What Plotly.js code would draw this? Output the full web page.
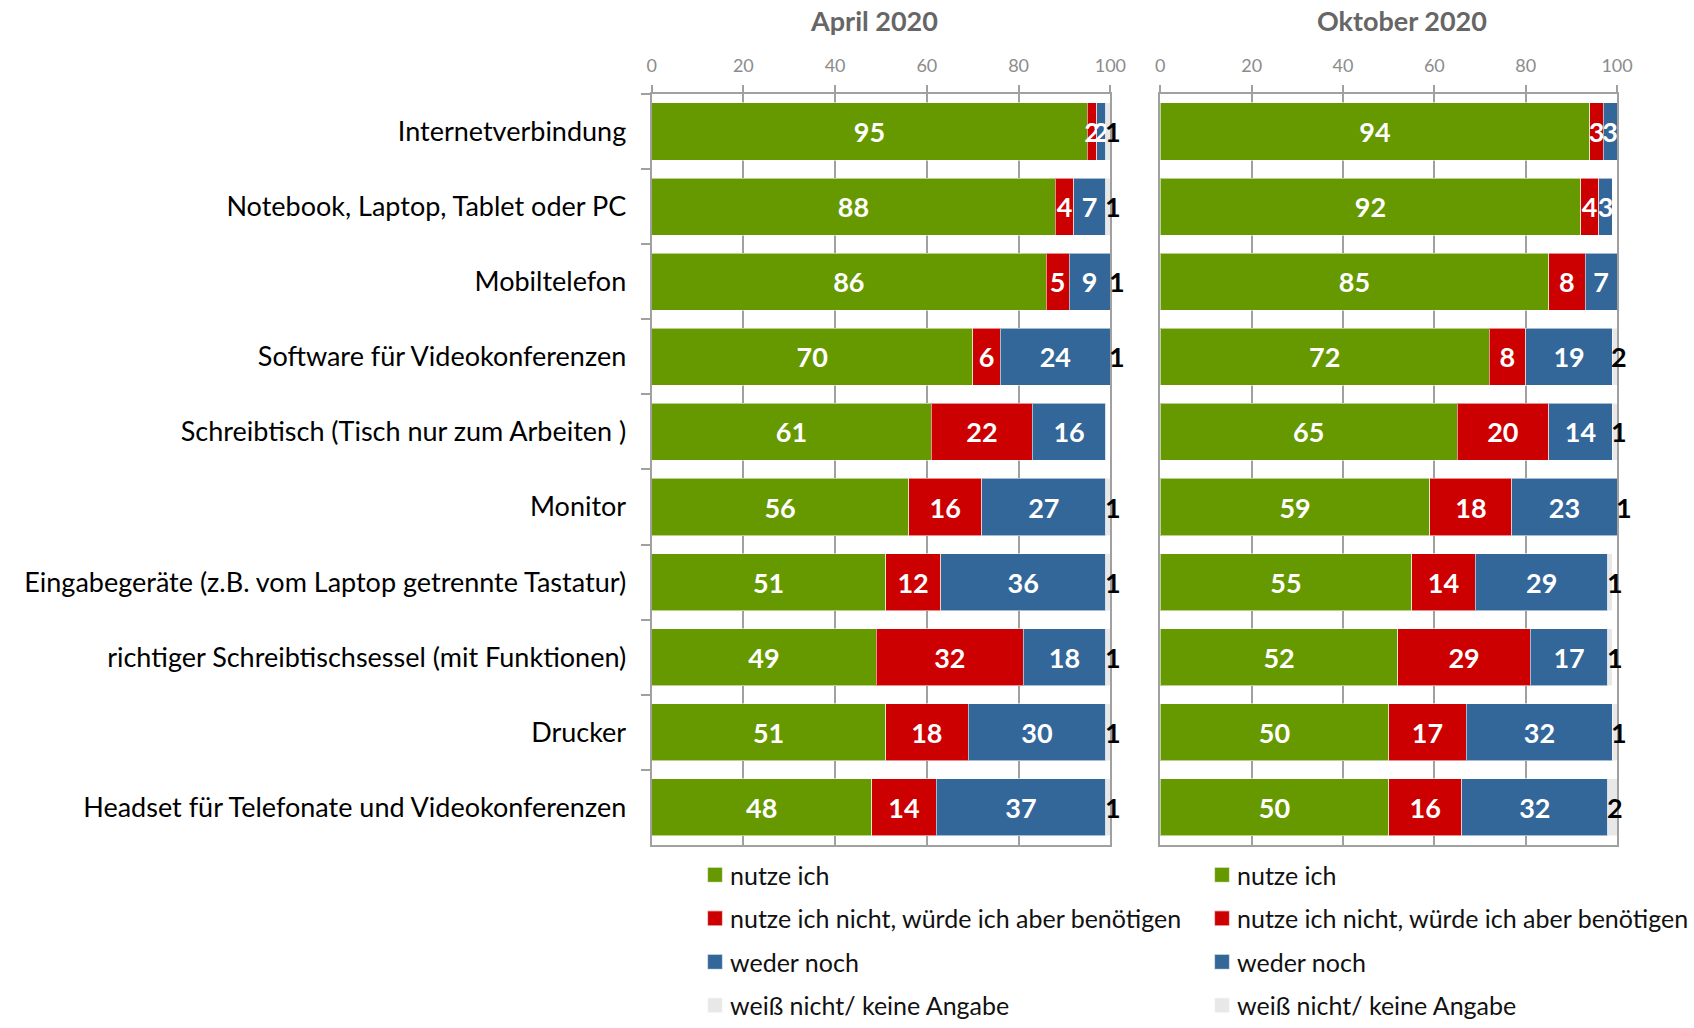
<!DOCTYPE html>
<html>
<head>
<meta charset="utf-8">
<script src="https://cdn.plot.ly/plotly-3.0.1.min.js"></script>
<style>html,body{margin:0;padding:0;background:#fff;}#chart{width:1694px;height:1028px;}</style>
</head>
<body>
<div id="chart"></div>
<script>
// ---- data ----
const categories = [
  'Internetverbindung',
  'Notebook, Laptop, Tablet oder PC',
  'Mobiltelefon',
  'Software für Videokonferenzen',
  'Schreibtisch (Tisch nur zum Arbeiten )',
  'Monitor',
  'Eingabegeräte (z.B. vom Laptop getrennte Tastatur)',
  'richtiger Schreibtischsessel (mit Funktionen)',
  'Drucker',
  'Headset für Telefonate und Videokonferenzen'
];
const seriesNames = [
  'nutze ich',
  'nutze ich nicht, würde ich aber benötigen',
  'weder noch',
  'weiß nicht/ keine Angabe'
];
const panelTitles = ['April 2020', 'Oktober 2020'];

const aprilNutze      = [95, 88, 86, 70, 61, 56, 51, 49, 51, 48];
const aprilBenoetigen = [ 2,  4,  5,  6, 22, 16, 12, 32, 18, 14];
const aprilWeder      = [ 2,  7,  9, 24, 16, 27, 36, 18, 30, 37];
const aprilWeissNicht = [ 1,  1,  1,  1,  0,  1,  1,  1,  1,  1];

const oktNutze        = [94, 92, 85, 72, 65, 59, 55, 52, 50, 50];
const oktBenoetigen   = [ 3,  4,  8,  8, 20, 18, 14, 29, 17, 16];
const oktWeder        = [ 3,  3,  7, 19, 14, 23, 29, 17, 32, 32];
const oktWeissNicht   = [ 0,  0,  0,  2,  1,  1,  1,  1,  1,  2];

const xTicks = [0, 20, 40, 60, 80, 100];

// ---- styling ----
const colors = ['#669900', '#CC0000', '#336699', '#E8E8E8'];
const FONT = 'Lato, "Open Sans", "DejaVu Sans", sans-serif';
const labelFont = {family: FONT, size: 27, color: '#ffffff', weight: 'bold'};

const panels = [
  {vals: [aprilNutze, aprilBenoetigen, aprilWeder, aprilWeissNicht], xa: 'x', ya: 'y', leg: 'legend', suffix: 'a'},
  {vals: [oktNutze, oktBenoetigen, oktWeder, oktWeissNicht], xa: 'x2', ya: 'y2', leg: 'legend2', suffix: 'b'}
];

const traces = [];
const grayLabels = [];
panels.forEach(p => {
  p.vals.forEach((v, i) => {
    const isGray = i === 3;
    traces.push({
      type: 'bar',
      orientation: 'h',
      name: seriesNames[i],
      x: v,
      y: categories,
      xaxis: p.xa,
      yaxis: p.ya,
      legend: p.leg,
      legendgroup: 'g' + i + p.suffix,
      marker: {color: colors[i], line: {color: 'rgba(255,255,255,0.55)', width: 1}},
      text: isGray ? null : v.map(n => n > 0 ? String(n) : ''),
      textposition: isGray ? 'none' : 'inside',
      insidetextanchor: 'middle',
      constraintext: 'none',
      textangle: 0,
      textfont: labelFont,
      insidetextfont: labelFont,
      hoverinfo: 'x+y+name'
    });
  });
  // labels of the "weiß nicht" segment, starting where that segment starts
  const gray = p.vals[3];
  gray.forEach((g, k) => {
    if (g <= 0) return;
    const start = p.vals[0][k] + p.vals[1][k] + p.vals[2][k];
    grayLabels.push({
      xref: p.xa, yref: p.ya,
      x: start, y: categories[k],
      text: '<b>' + g + '</b>',
      showarrow: false,
      xanchor: 'left', yanchor: 'middle',
      xshift: -3,
      font: {family: FONT, size: 27, color: '#000000'}
    });
  });
});

const yDomain = [0.178, 0.9086];
const gridCol = '#a0a0a0';

const xCommon = {
  range: [0, 100],
  side: 'top',
  tickvals: xTicks,
  ticktext: xTicks.map(String),
  ticks: 'outside',
  ticklen: 7,
  tickwidth: 2,
  tickcolor: gridCol,
  ticklabelstandoff: 6,
  showgrid: true,
  gridcolor: gridCol,
  gridwidth: 2,
  showline: true,
  linecolor: gridCol,
  linewidth: 2,
  mirror: true,
  zeroline: false,
  fixedrange: true,
  automargin: false,
  tickfont: {family: FONT, size: 18, color: '#8c8c8c'}
};

const legendCommon = {
  y: 0, xanchor: 'left', yanchor: 'bottom',
  orientation: 'v', traceorder: 'grouped', tracegroupgap: 8,
  bgcolor: 'rgba(0,0,0,0)', borderwidth: 0,
  font: {family: FONT, size: 25, color: '#111'}
};

const titleAnns = panelTitles.map((t, k) => ({
  text: '<b>' + t + '</b>',
  xref: 'paper', yref: 'paper',
  x: (k === 0 ? 875 : 1403) / 1694,
  y: 1 - 20/1028,
  xanchor: 'center', yanchor: 'middle',
  showarrow: false,
  font: {family: FONT, size: 27, color: '#666666'}
}));

const layout = {
  width: 1694,
  height: 1028,
  margin: {l: 0, r: 0, t: 0, b: 0},
  paper_bgcolor: '#ffffff',
  plot_bgcolor: '#ffffff',
  barmode: 'stack',
  bargap: 0.24,
  font: {family: FONT, color: '#000'},
  xaxis: Object.assign({}, xCommon, {domain: [652/1694, 1111/1694], anchor: 'y'}),
  xaxis2: Object.assign({}, xCommon, {domain: [1161/1694, 1618/1694], anchor: 'y2'}),
  yaxis: {
    domain: yDomain, anchor: 'x',
    type: 'category', categoryorder: 'array', categoryarray: categories,
    autorange: 'reversed',
    tickson: 'boundaries',
    ticks: 'outside', ticklen: 9, tickwidth: 2, tickcolor: gridCol,
    ticklabelstandoff: 18,
    showline: true, linecolor: gridCol, linewidth: 2, mirror: true,
    showgrid: false, zeroline: false, fixedrange: true, automargin: false,
    tickfont: {family: FONT, size: 27, color: '#000'}
  },
  yaxis2: {
    domain: yDomain, anchor: 'x2',
    type: 'category', categoryorder: 'array', categoryarray: categories,
    autorange: 'reversed',
    showticklabels: false, ticks: '',
    showline: true, linecolor: gridCol, linewidth: 2, mirror: true,
    showgrid: false, zeroline: false, fixedrange: true, automargin: false
  },
  legend: Object.assign({}, legendCommon, {x: 690/1694}),
  legend2: Object.assign({}, legendCommon, {x: 1198/1694}),
  annotations: titleAnns.concat(grayLabels),
  showlegend: true
};

Plotly.newPlot('chart', traces, layout, {displayModeBar: false, staticPlot: true}).then(() => {
  // slightly larger legend squares, closer to the text, as in the reference
  document.querySelectorAll('.legendpoints path').forEach(el => {
    const t = el.getAttribute('transform') || '';
    el.setAttribute('transform', t + ' translate(5,0) scale(1.25)');
  });
});
</script>
</body>
</html>
